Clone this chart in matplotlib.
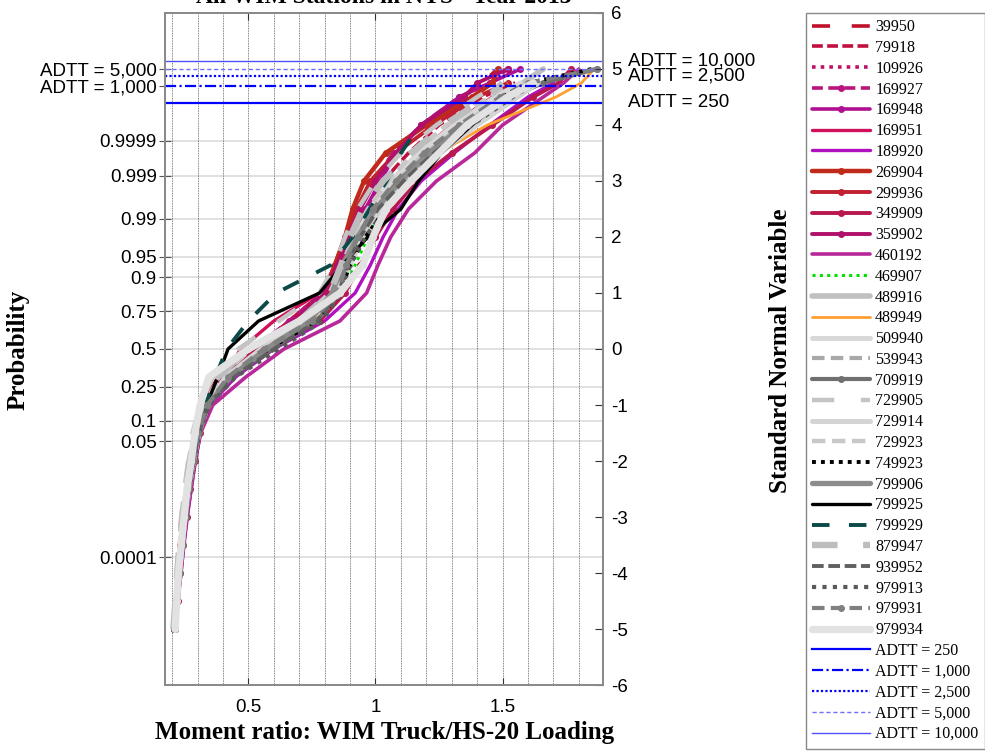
import math
import numpy as np
import matplotlib.pyplot as plt
from matplotlib.lines import Line2D

plt.rcParams['font.family'] = ['Liberation Sans', 'DejaVu Sans']
plt.rcParams['axes.unicode_minus'] = False


def probit(p):
    # inverse standard normal cdf (bisection on the upper tail)
    q = 1.0 - p
    lo, hi = -9.0, 9.0
    for _ in range(200):
        mid = 0.5 * (lo + hi)
        if 0.5 * math.erfc(mid / math.sqrt(2)) > q:
            lo = mid
        else:
            hi = mid
    return 0.5 * (lo + hi)


# standard normal levels where the moment ratios were read
z_levels = [-5.0, -4.5, -4.0, -3.5, -3.0, -2.5, -2.0, -1.5, -1.0, -0.5, 0.0,
            0.5, 1.0, 1.5, 2.0, 2.5, 3.0, 3.5, 4.0, 4.5, 4.75, 5.0]

# moment ratio (WIM truck / HS-20) of each station at those levels
s39950 = [0.205, 0.215, 0.222, 0.232, 0.243, 0.256, 0.272, 0.292, 0.322, 0.38, 0.50,
          0.68, 0.80, 0.85, 0.89, 0.93, 0.99, 1.08, 1.20, 1.34, 1.42, 1.48]
s79918 = [0.207, 0.216, 0.224, 0.234, 0.246, 0.260, 0.277, 0.297, 0.330, 0.40, 0.53,
          0.66, 0.79, 0.86, 0.91, 0.96, 1.03, 1.13, 1.25, 1.42, 1.55]
s109926 = [0.210, 0.220, 0.228, 0.238, 0.250, 0.264, 0.282, 0.303, 0.338, 0.42, 0.56,
           0.74, 0.84, 0.88, 0.94, 1.00, 1.08, 1.18, 1.30, 1.48, 1.60]
s169927 = [0.208, 0.217, 0.225, 0.236, 0.248, 0.262, 0.280, 0.300, 0.335, 0.41, 0.52,
           0.66, 0.79, 0.84, 0.88, 0.93, 0.99, 1.07, 1.18, 1.33, 1.45, 1.52]
s169948 = [0.210, 0.219, 0.227, 0.237, 0.249, 0.263, 0.281, 0.301, 0.335, 0.41, 0.53,
           0.70, 0.81, 0.85, 0.90, 0.96, 1.02, 1.08, 1.18, 1.33, 1.45, 1.57]
s169951 = [0.207, 0.217, 0.226, 0.237, 0.250, 0.265, 0.283, 0.305, 0.340, 0.40, 0.47,
           0.60, 0.78, 0.86, 0.92, 0.99, 1.07, 1.17, 1.30, 1.46, 1.58, 1.66]
s189920 = [0.212, 0.224, 0.235, 0.247, 0.260, 0.275, 0.292, 0.312, 0.348, 0.45, 0.60,
           0.80, 0.92, 0.98, 1.03, 1.09, 1.18, 1.31, 1.45, 1.60, 1.70]
s269904 = [0.206, 0.215, 0.223, 0.233, 0.245, 0.259, 0.276, 0.296, 0.330, 0.40, 0.52,
           0.70, 0.80, 0.84, 0.88, 0.91, 0.955, 1.04, 1.20, 1.38, 1.46, 1.48]
s299936 = [0.207, 0.216, 0.224, 0.235, 0.247, 0.261, 0.278, 0.298, 0.332, 0.41, 0.53,
           0.71, 0.81, 0.85, 0.89, 0.925, 0.98, 1.08, 1.23, 1.40, 1.52]
s349909 = [0.211, 0.222, 0.232, 0.244, 0.257, 0.272, 0.290, 0.310, 0.345, 0.43, 0.58,
           0.78, 0.88, 0.94, 1.00, 1.07, 1.16, 1.30, 1.46, 1.62, 1.72, 1.77]
s359902 = [0.209, 0.218, 0.226, 0.236, 0.248, 0.262, 0.280, 0.300, 0.333, 0.40, 0.51,
           0.68, 0.80, 0.85, 0.89, 0.94, 1.00, 1.08, 1.18, 1.35, 1.40, 1.52]
s460192 = [0.206, 0.220, 0.235, 0.245, 0.258, 0.275, 0.290, 0.312, 0.360, 0.49, 0.64,
           0.86, 0.965, 1.01, 1.06, 1.13, 1.24, 1.39, 1.50, 1.66, 1.74, 1.80]
s469907 = [0.210, 0.220, 0.229, 0.240, 0.252, 0.266, 0.284, 0.305, 0.340, 0.43, 0.58,
           0.76, 0.87, 0.92, 0.97, 1.03, 1.11, 1.22, 1.36, 1.52]
s489916 = [0.209, 0.218, 0.227, 0.238, 0.250, 0.265, 0.283, 0.304, 0.340, 0.42, 0.57,
           0.75, 0.85, 0.89, 0.93, 0.99, 1.07, 1.18, 1.32, 1.48, 1.58, 1.66]
s489949 = [0.211, 0.221, 0.230, 0.241, 0.253, 0.267, 0.285, 0.306, 0.340, 0.43, 0.58,
           0.76, 0.86, 0.89, 0.92, 0.99, 1.09, 1.25, 1.44, 1.71, 1.81, 1.86]
s509940 = [0.208, 0.217, 0.225, 0.236, 0.248, 0.262, 0.280, 0.300, 0.335, 0.41, 0.55,
           0.74, 0.84, 0.88, 0.92, 0.98, 1.06, 1.17, 1.31, 1.47, 1.57]
s539943 = [0.210, 0.219, 0.227, 0.238, 0.250, 0.264, 0.282, 0.302, 0.337, 0.42, 0.56,
           0.75, 0.85, 0.89, 0.94, 1.00, 1.09, 1.20, 1.34, 1.50, 1.60]
s709919 = [0.211, 0.221, 0.230, 0.241, 0.253, 0.267, 0.285, 0.306, 0.342, 0.43, 0.59,
           0.77, 0.86, 0.895, 0.94, 1.00, 1.09, 1.21, 1.36, 1.53, 1.66, 1.87]
s729905 = [0.205, 0.212, 0.218, 0.226, 0.236, 0.248, 0.263, 0.280, 0.310, 0.36, 0.46,
           0.62, 0.78, 0.84, 0.88, 0.93, 1.00, 1.10, 1.24, 1.40, 1.49]
s729914 = [0.209, 0.219, 0.228, 0.239, 0.251, 0.266, 0.284, 0.305, 0.340, 0.42, 0.56,
           0.74, 0.85, 0.90, 0.95, 1.02, 1.12, 1.25, 1.40, 1.56, 1.64]
s729923 = [0.206, 0.214, 0.221, 0.230, 0.241, 0.254, 0.270, 0.289, 0.320, 0.39, 0.51,
           0.70, 0.82, 0.87, 0.91, 0.97, 1.05, 1.15, 1.28, 1.45, 1.52]
s749923 = [0.210, 0.220, 0.229, 0.240, 0.252, 0.266, 0.284, 0.305, 0.340, 0.43, 0.58,
           0.77, 0.86, 0.90, 0.96, 1.04, 1.14, 1.24, 1.37, 1.50, 1.60, 1.85]
s799906 = [0.210, 0.220, 0.228, 0.239, 0.251, 0.265, 0.283, 0.304, 0.340, 0.43, 0.57,
           0.74, 0.83, 0.87, 0.93, 1.00, 1.10, 1.21, 1.35, 1.52, 1.62]
s799925 = [0.210, 0.219, 0.227, 0.237, 0.249, 0.263, 0.281, 0.300, 0.335, 0.38, 0.42,
           0.54, 0.78, 0.87, 0.97, 1.10, 1.17, 1.26, 1.38, 1.52, 1.62]
s799929 = [0.207, 0.216, 0.224, 0.234, 0.246, 0.260, 0.277, 0.297, 0.330, 0.37, 0.415,
           0.50, 0.61, 0.825, 0.91, 0.977, 1.044, 1.10, 1.175]
s879947 = [0.205, 0.213, 0.220, 0.229, 0.240, 0.253, 0.269, 0.288, 0.318, 0.38, 0.50,
           0.70, 0.82, 0.865, 0.90, 0.95, 1.03, 1.14, 1.27, 1.44, 1.50]
s939952 = [0.210, 0.220, 0.229, 0.240, 0.252, 0.266, 0.284, 0.305, 0.342, 0.44, 0.60,
           0.77, 0.855, 0.89, 0.94, 1.01, 1.11, 1.23, 1.37, 1.53, 1.61]
s979913 = [0.211, 0.221, 0.230, 0.241, 0.253, 0.268, 0.286, 0.308, 0.345, 0.45, 0.62,
           0.79, 0.865, 0.90, 0.96, 1.04, 1.13, 1.24, 1.38, 1.54, 1.63]
s979931 = [0.209, 0.219, 0.227, 0.238, 0.250, 0.264, 0.282, 0.303, 0.338, 0.42, 0.56,
           0.75, 0.85, 0.885, 0.93, 0.99, 1.08, 1.19, 1.33, 1.49, 1.60, 1.87]
s979934 = [0.212, 0.218, 0.225, 0.236, 0.247, 0.259, 0.275, 0.290, 0.310, 0.345, 0.50,
           0.70, 0.86, 0.95, 0.99, 1.04, 1.14, 1.25, 1.36, 1.52, 1.62]

stations = ['39950', '79918', '109926', '169927', '169948', '169951', '189920',
            '269904', '299936', '349909', '359902', '460192', '469907', '489916',
            '489949', '509940', '539943', '709919', '729905', '729914', '729923',
            '749923', '799906', '799925', '799929', '879947', '939952', '979913',
            '979931', '979934']
ratios = [s39950, s79918, s109926, s169927, s169948, s169951, s189920,
          s269904, s299936, s349909, s359902, s460192, s469907, s489916,
          s489949, s509940, s539943, s709919, s729905, s729914, s729923,
          s749923, s799906, s799925, s799929, s879947, s939952, s979913,
          s979931, s979934]

# (color, dash pattern or None, line width, marker)
styles = [
    ('#C0102A', (5, 6), 2.6, None),
    ('#C01040', (3, 1.2), 2.6, None),
    ('#C0106A', (1, 1.4), 2.6, None),
    ('#B8157F', (3, 1.5), 2.6, 'o'),
    ('#B0108F', None, 2.6, 'o'),
    ('#D0105A', None, 2.4, None),
    ('#B010C0', None, 2.4, None),
    ('#C02A1A', None, 3.2, 'o'),
    ('#C02030', None, 2.8, 'o'),
    ('#B8184F', None, 2.8, 'o'),
    ('#B0106A', None, 2.8, 'o'),
    ('#B8289A', None, 2.6, None),
    ('#00E000', (1, 1.4), 2.2, None),
    ('#C0C0C0', None, 4.0, None),
    ('#FFA030', None, 2.0, None),
    ('#D8D8D8', None, 3.6, '.'),
    ('#A8A8A8', (3, 1.5), 3.0, None),
    ('#707070', None, 3.0, 'o'),
    ('#C4C4C4', (5, 6), 3.2, None),
    ('#D4D4D4', None, 3.6, None),
    ('#C8C8C8', (3, 1.5), 3.2, None),
    ('#000000', (1, 1.3), 2.8, None),
    ('#8C8C8C', None, 3.8, None),
    ('#000000', None, 2.4, None),
    ('#0C4A48', (4.5, 5), 2.8, None),
    ('#BDBDBD', (4, 4), 4.6, None),
    ('#606060', (3, 1.2), 2.8, None),
    ('#5A5A5A', (1, 1.5), 3.0, None),
    ('#808080', (3, 1.5), 3.0, 'o'),
    ('#E2E2E2', None, 5.2, 'o'),
]

# design ADTT levels, drawn at the 2-year maximum fractile
adtt = [250, 1000, 2500, 5000, 10000]
adtt_names = ['ADTT = 250', 'ADTT = 1,000', 'ADTT = 2,500', 'ADTT = 5,000', 'ADTT = 10,000']
adtt_styles = [('#0000FF', '-', 1.6), ('#0000FF', (0, (5, 1.5, 1, 1.5)), 1.6),
               ('#0000FF', (0, (1, 1)), 1.6), ('#7070FF', (0, (3, 2)), 1.0),
               ('#5050FF', '-', 1.0)]
n_days = 2 * 365

prob_ticks = [0.0001, 0.05, 0.1, 0.25, 0.5, 0.75, 0.9, 0.95, 0.99, 0.999, 0.9999]
prob_labels = ['0.0001', '0.05', '0.1', '0.25', '0.5', '0.75', '0.9', '0.95',
               '0.99', '0.999', '0.9999']

fig = plt.figure(figsize=(9.85, 7.55), dpi=100)
ax = fig.add_axes([0.1675, 0.0927, 0.4447, 0.8901])

prob_z = [probit(p) for p in prob_ticks]
adtt_z = [probit(1.0 - 1.0 / (a * n_days)) for a in adtt]

# grid: probability levels (horizontal), every 0.1 in moment ratio (vertical)
for zz in prob_z:
    ax.axhline(zz, color='#DCDCDC', lw=1.2, zorder=0)
for gx in np.arange(0.2, 1.85, 0.1):
    ax.axvline(gx, color='#5A5A5A', lw=0.6, ls=(0, (1, 1)), zorder=0)

handles = []
for name, xs, (c, dash, lw, mk) in zip(stations, ratios, styles):
    kw = dict(color=c, lw=lw, label=name, solid_capstyle='round',
              solid_joinstyle='round')
    if dash is not None:
        kw['dashes'] = dash
    if mk is not None:
        kw.update(marker=mk, ms=4 if mk == 'o' else 5, mfc=c, mec=c)
    ln, = ax.plot(xs, z_levels[:len(xs)], **kw)
    handles.append(ln)

for zz, name, (c, ls, lw) in zip(adtt_z, adtt_names, adtt_styles):
    ln = ax.axhline(zz, color=c, ls=ls, lw=lw, label=name, zorder=5)
    handles.append(ln)

ax.set_xlim(0.172, 1.895)
ax.set_ylim(-6, 6)
ax.set_xticks([0.5, 1.0, 1.5])
ax.set_xticklabels(['0.5', '1', '1.5'])

# left axis: probability scale plus two ADTT levels
left_ticks = prob_z + [adtt_z[1], adtt_z[3]]
left_labels = prob_labels + [adtt_names[1], adtt_names[3]]
ax.set_yticks(left_ticks)
ax.set_yticklabels(left_labels)
ax.tick_params(axis='y', direction='inout', length=8, labelsize=13.5, pad=2,
               color='#555555')
ax.tick_params(axis='x', direction='in', length=5, labelsize=13.5, pad=10,
               top=True, color='#333333')

ax2 = ax.twinx()
ax2.set_ylim(-6, 6)
ax2.set_yticks(range(-6, 7))
ax2.tick_params(axis='y', direction='in', length=6, labelsize=13.5, pad=6,
                color='#333333')

for a_ in (ax, ax2):
    for sp in a_.spines.values():
        sp.set_color('#8A8A8A')
        sp.set_linewidth(1.4)

# remaining ADTT labels on the right side
for i in (0, 2, 4):
    ax.text(1.057, adtt_z[i], adtt_names[i], transform=ax.get_yaxis_transform(),
            ha='left', va='center', fontsize=13.5)

serif = ['Liberation Serif', 'DejaVu Serif']
fig.text(0.39, 0.0295, 'Moment ratio: WIM Truck/HS-20 Loading', ha='center',
         va='center', family=serif, fontweight='bold', fontsize=18)
fig.text(0.018, 0.536, 'Probability', rotation=90, ha='center', va='center',
         family=serif, fontweight='bold', fontsize=18)
fig.text(0.792, 0.536, 'Standard Normal Variable', rotation=90, ha='center',
         va='center', family=serif, fontweight='bold', fontsize=18)
fig.text(0.39, 1.003, 'All WIM Stations in NYS - Year 2013', ha='center', va='center',
         family=serif, fontweight='bold', fontsize=17)

fig.legend(handles, stations + adtt_names, loc='upper left',
           bbox_to_anchor=(0.818, 0.983), frameon=True, fancybox=False,
           edgecolor='#888888', framealpha=1,
           prop={'family': serif, 'size': 11.5}, handlelength=3.6,
           handletextpad=0.35, labelspacing=0.3, borderpad=0.4,
           borderaxespad=0, numpoints=1)

fig.savefig('out.png', dpi=100)
